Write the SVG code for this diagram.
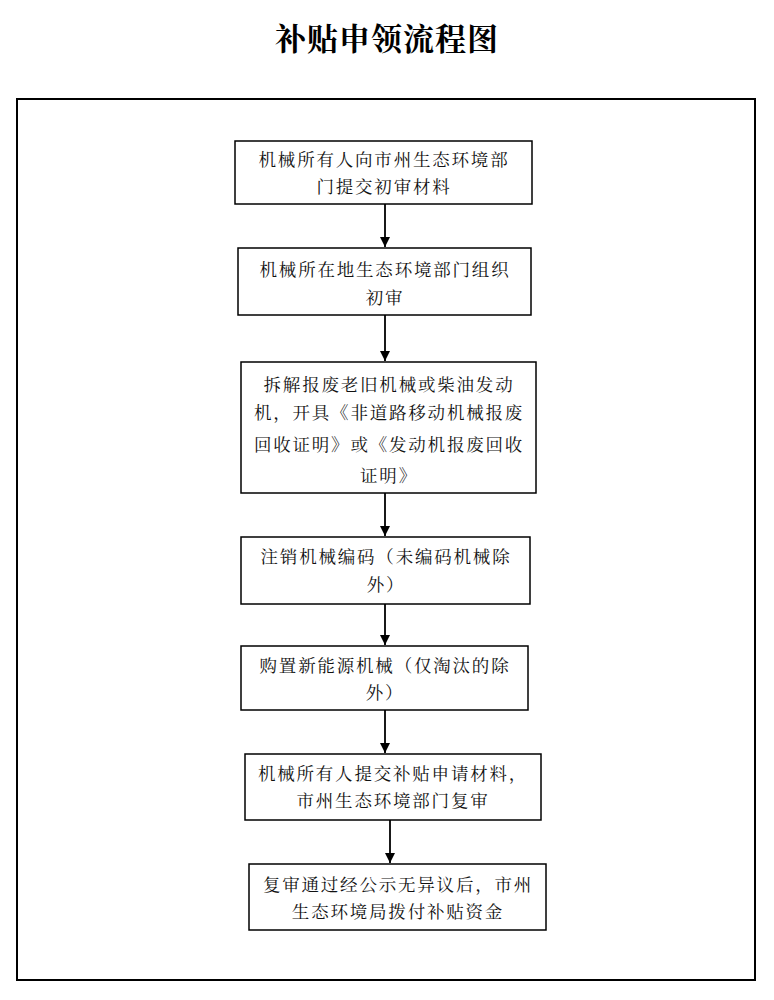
<svg xmlns="http://www.w3.org/2000/svg" width="774" height="1000" viewBox="0 0 774 1000">
<defs>
<marker id="ah" markerWidth="10" markerHeight="10" refX="10" refY="5" orient="auto" markerUnits="userSpaceOnUse">
<path d="M0,0 L10,5 L0,10 Z" fill="#000"/>
</marker>
<style>
.b{fill:#fff;stroke:#000;stroke-width:1.5}
.t{font-family:"Noto Serif CJK SC","Noto Sans CJK SC",serif;font-size:17.5px;letter-spacing:1.8px;text-anchor:middle;fill:#111}
.c{stroke:#000;stroke-width:1.8;fill:none;marker-end:url(#ah)}
</style>
</defs>
<rect width="774" height="1000" fill="#fff"/>
<text x="387" y="50" style="font-family:'Noto Serif CJK SC','Noto Sans CJK SC',serif;font-size:31px;font-weight:bold;text-anchor:middle;letter-spacing:1px">补贴申领流程图</text>
<rect x="17" y="99" width="738" height="881" fill="none" stroke="#000" stroke-width="2"/>
<g id="connectors">
<line class="c" x1="385" y1="204" x2="385" y2="247"/>
<line class="c" x1="385" y1="315" x2="385" y2="361"/>
<line class="c" x1="385" y1="493" x2="385" y2="536"/>
<line class="c" x1="385" y1="604" x2="385" y2="645"/>
<line class="c" x1="385" y1="710" x2="385" y2="753"/>
<line class="c" x1="390" y1="820" x2="390" y2="863"/>
</g>
<g id="n1"><rect class="b" x="235" y="141" width="297" height="63"/>
<text class="t" x="384" y="166">机械所有人向市州生态环境部</text><text class="t" x="384" y="193">门提交初审材料</text></g>
<g id="n2"><rect class="b" x="238" y="248" width="293" height="67"/>
<text class="t" x="385" y="276">机械所在地生态环境部门组织</text><text class="t" x="385" y="304">初审</text></g>
<g id="n3"><rect class="b" x="241" y="362" width="295" height="131"/>
<text class="t" x="389" y="391">拆解报废老旧机械或柴油发动</text><text class="t" x="389" y="419">机，开具《非道路移动机械报废</text><text class="t" x="389" y="451">回收证明》或《发动机报废回收</text><text class="t" x="389" y="482">证明》</text></g>
<g id="n4"><rect class="b" x="241" y="537" width="289" height="67"/>
<text class="t" x="386" y="563">注销机械编码（未编码机械除</text><text class="t" x="386" y="591">外）</text></g>
<g id="n5"><rect class="b" x="241" y="646" width="287" height="64"/>
<text class="t" x="385" y="672">购置新能源机械（仅淘汰的除</text><text class="t" x="385" y="699">外）</text></g>
<g id="n6"><rect class="b" x="245" y="754" width="296" height="66"/>
<text class="t" x="393" y="780">机械所有人提交补贴申请材料，</text><text class="t" x="393" y="807">市州生态环境部门复审</text></g>
<g id="n7"><rect class="b" x="249" y="864" width="297" height="66"/>
<text class="t" x="398" y="891">复审通过经公示无异议后，市州</text><text class="t" x="398" y="918">生态环境局拨付补贴资金</text></g>
</svg>
